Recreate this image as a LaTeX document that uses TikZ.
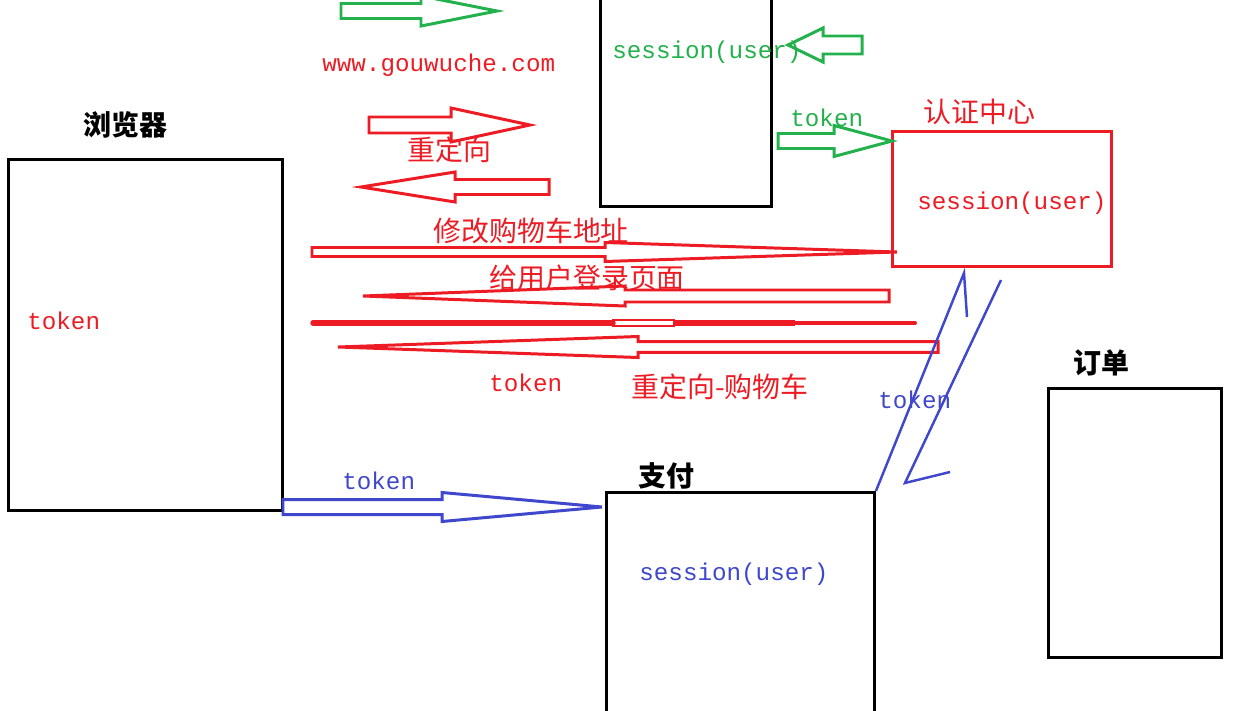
\documentclass[tikz,border=0pt]{standalone}
\usepackage{fontspec}
\setmonofont{Liberation Mono}
\newfontfamily\cjk{Noto Sans CJK SC}
\definecolor{pred}{RGB}{237,28,36}
\definecolor{pgreen}{RGB}{34,177,76}
\definecolor{pblue}{RGB}{63,72,204}
% block arrow: colour, tail x, head x, tip x, y, shaft half, head half
\newcommand{\blockarrow}[7]{\draw[#1,line width=1.7pt] (#2,{#5-#6}) -- (#3,{#5-#6})
  -- (#3,{#5-#7}) -- (#4,#5) -- (#3,{#5+#7}) -- (#3,{#5+#6}) -- (#2,{#5+#6}) -- cycle;}
\tikzset{box/.style={draw,line width=1.7pt,inner sep=0pt},
  head/.style={font=\cjk\bfseries\fontsize{15.9}{18}\selectfont,inner sep=0pt,anchor=west},
  cjktext/.style={font=\cjk\fontsize{15.9}{18}\selectfont,inner sep=0pt,anchor=west},
  monotext/.style={font=\ttfamily\fontsize{13.8}{16}\selectfont,inner sep=0pt,anchor=west}}

\begin{document}
\begin{tikzpicture}[x=0.02cm,y=-0.02cm]
       \useasboundingbox[fill=white] (0,0) rectangle (1240,710);
       % boxes
       \node[box,minimum width=5.48cm,minimum height=7.02cm,anchor=north west] (browser) at (7,158) {};
       \node[box,minimum width=3.42cm,minimum height=4.76cm,anchor=south west] (cart) at (599,208) {};
       \node[box,draw=pred,minimum width=4.38cm,minimum height=2.7cm,anchor=north west] (auth) at (891,130) {};
       \node[box,minimum width=5.36cm,minimum height=5cm,anchor=north west] (pay) at (605,491) {};
       \node[box,minimum width=3.46cm,minimum height=5.38cm,anchor=north west] (order) at (1047,387) {};
       \node[head] (browserlbl) at (83,125) {浏览器};
       \node[head,text=pred,font=\cjk\fontsize{15.9}{18}\selectfont] (authlbl) at (923,112) {认证中心};
       \node[head] (paylbl) at (638,476) {支付};
       \node[head] (orderlbl) at (1073,363) {订单};
       \node[monotext,text=pred] (browsertok) at (27,321) {token};
       \node[monotext,text=pgreen] (cartsess) at (612,52) {session(user)};
       \node[monotext,text=pred] (authsess) at (917,203) {session(user)};
       \node[monotext,text=pblue] (paysess) at (639,574) {session(user)};
       % green and red arrows at the top
       \blockarrow{pgreen}{341}{421}{497}{11}{7.5}{15}
       \node[monotext,text=pred] (url) at (322,65) {www.gouwuche.com};
       \blockarrow{pgreen}{862}{823}{788}{45}{9}{17}
       \blockarrow{pred}{369}{451}{530}{125}{8}{17}
       \node[cjktext,text=pred] (redir) at (407,150) {重定向};
       \blockarrow{pred}{549}{455}{361}{187}{7.5}{15}
       \node[monotext,text=pgreen] (gtok) at (790,118) {token};
       \blockarrow{pgreen}{778}{834}{892}{141}{7.5}{15.5}
       % long red arrows
       \node[cjktext,text=pred] (modify) at (433,231) {修改购物车地址};
       \blockarrow{pred}{312}{605}{897}{252}{4.5}{9.5}
       \node[cjktext,text=pred] (loginpg) at (489,278) {给用户登录页面};
       \blockarrow{pred}{889}{625}{363}{296}{6}{10}
       \draw[pred,line width=3.1pt,line cap=round] (313,323) -- (613,323);
       \draw[pred,line width=1.2pt] (613,320) rectangle (674,326);
       \draw[pred,line width=3.1pt] (674,323) -- (795,323);
       \draw[pred,line width=2.3pt,line cap=round] (795,323) -- (915,323);
       \blockarrow{pred}{938}{638}{338}{347}{5.3}{10.5}
       \node[monotext,text=pred] (rtok) at (489,383) {token};
       \node[cjktext,text=pred] (redircart) at (631,387) {重定向-购物车};
       % blue
       \coordinate (up) at (964,273);
       \coordinate (down) at (905,483);
       \draw[pblue,line width=1.4pt] (pay.north east) -- (up) -- (967,317);
       \draw[pblue,line width=1.4pt] (1001,280) -- (down) -- (950,472);
       \node[monotext,text=pblue] (btok) at (878,400) {token};
       \node[monotext,text=pblue] (paytok) at (342,481) {token};
       \blockarrow{pblue}{283}{442}{602}{507}{7.5}{14.5}
\end{tikzpicture}
\end{document}
